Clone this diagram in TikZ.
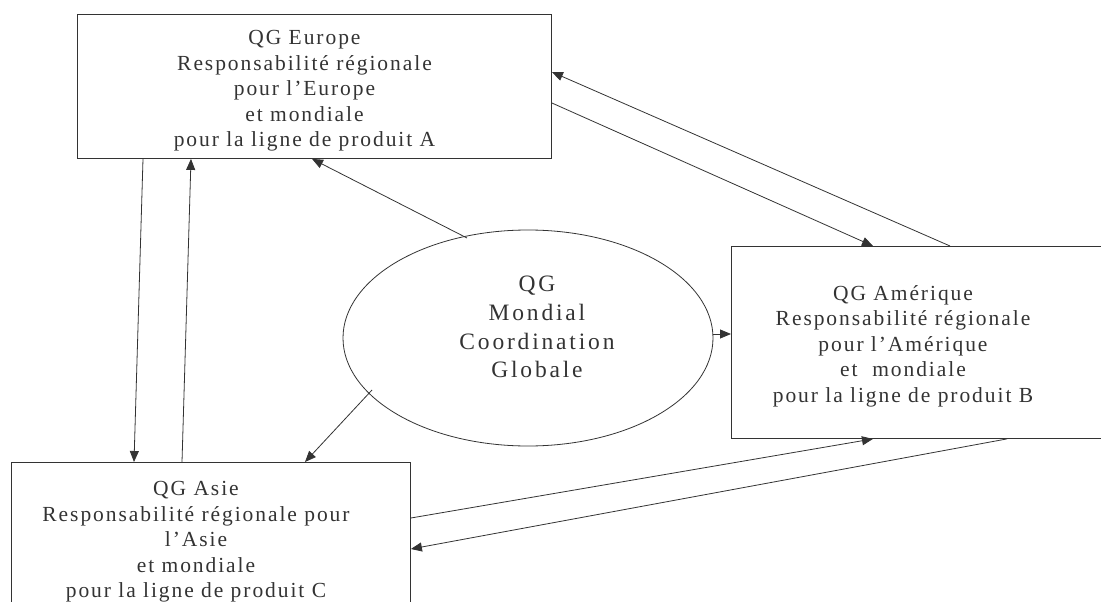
\documentclass[tikz,border=0pt]{standalone}
\usepackage{fontspec}
\setmainfont{Liberation Serif}
\newfontfamily\boxfont[LetterSpace=9]{Liberation Serif}
\newfontfamily\ellfont[LetterSpace=12]{Liberation Serif}
\usetikzlibrary{arrows.meta,calc,shapes.geometric}
\definecolor{ink}{HTML}{333333}
\begin{document}
\begin{tikzpicture}[x=1pt,y=-1pt,
  box/.style={draw=ink,line width=0.9pt,inner sep=0pt,anchor=north west},
  lbl/.style={text=ink,align=center,inner sep=0pt,font=\boxfont\fontsize{21.5}{25.5}\selectfont},
  elbl/.style={text=ink,align=center,inner sep=0pt,font=\ellfont\fontsize{23.5}{28.7}\selectfont},
  conn/.style={draw=ink,line width=0.8pt,-{Triangle[length=11pt,width=9pt]}}]
\useasboundingbox (0,0) rectangle (1101,602);
\clip (0,0) rectangle (1101,602);
% boxes
\node[box,minimum width=474pt,minimum height=144pt] (eu) at (77,14) {};
\node[box,minimum width=399pt,minimum height=200pt] (as) at (11,462) {};
\node[box,minimum width=400pt,minimum height=192pt] (am) at (731,246) {};
\node[draw=ink,line width=0.8pt,ellipse,inner sep=0pt,minimum width=370pt,minimum height=216pt] (gm) at (528,338) {};
% texts
\node[lbl] (eut) at (304.5,91) {QG Europe\\Responsabilité régionale\\pour l’Europe\\et mondiale\\pour la ligne de produit A};
\node[lbl] (amt) at (903,346) {QG Amérique\\Responsabilité régionale\\pour l’Amérique\\et\ \ mondiale\\pour la ligne de produit B};
\node[lbl] (ast) at (196,542) {QG Asie\\Responsabilité régionale pour\\l’Asie\\et mondiale\\pour la ligne de produit C};
\node[elbl] (gmt) at (537,327) {QG\\Mondial\\Coordination\\Globale};
% connectors
\draw[conn] ($(eu.south west)+(66,0)$) -- ($(as.north west)+(123,0)$);
\draw[conn] ($(as.north west)+(171,0)$) -- ($(eu.south west)+(114,0)$);
\draw[conn] ($(gm.center)+(-61,-100)$) -- ($(eu.south west)+(235,0)$);
\draw[conn] ($(am.north west)+(219,0)$) -- ($(eu.north east)+(0,58)$);
\draw[conn] ($(eu.north east)+(0,89)$) -- ($(am.north west)+(142,0)$);
\draw[conn] ($(gm.east)+(0,-4)$) -- ($(am.north west)+(0,88)$);
\draw[conn] ($(gm.center)+(-156,52)$) -- ($(as.north west)+(294,0)$);
\draw[conn] ($(as.north east)+(0,56)$) -- ($(am.south west)+(142,0)$);
\draw[conn] ($(am.south west)+(276,0)$) -- ($(as.north east)+(0,87)$);
\end{tikzpicture}
\end{document}
